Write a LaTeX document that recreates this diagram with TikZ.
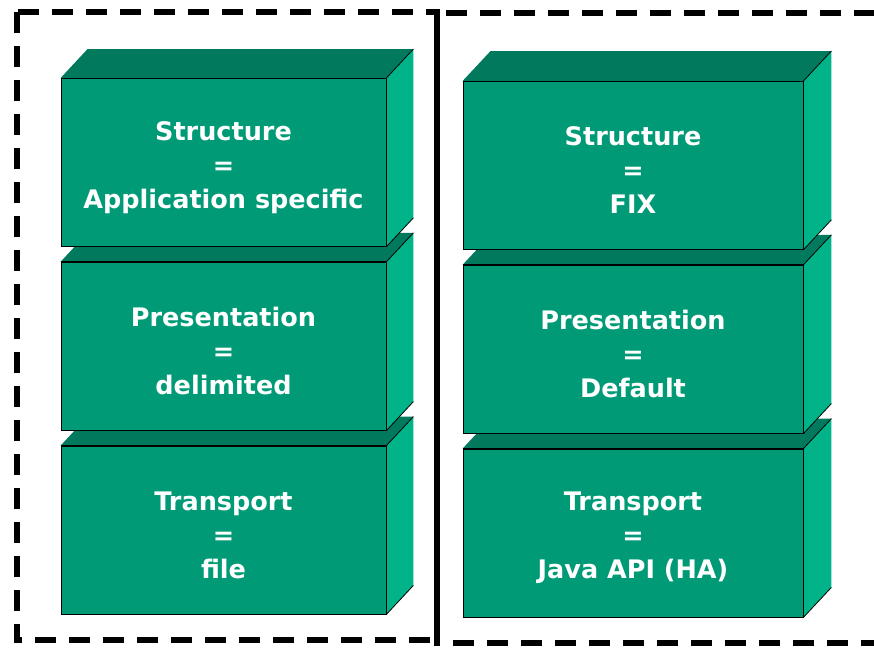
\documentclass[tikz,border=0pt]{standalone}
\usepackage{fontspec}
\newfontfamily\layerfont{DejaVu Sans}
\usepackage{tikz}
\usetikzlibrary{calc, positioning}
\definecolor{frontgreen}{RGB}{0,155,118}
\definecolor{topgreen}{RGB}{0,121,93}
\definecolor{sidegreen}{RGB}{0,179,136}
\tikzstyle{layer} = [rectangle, draw=black, line width=0.8pt, fill=frontgreen, minimum height=168pt, inner sep=0pt]
\tikzstyle{layertext} = [text=white, font=\layerfont\bfseries\fontsize{25.5}{34}\selectfont, align=center, yshift=-5pt]
\tikzstyle{edge} = [draw=black, line width=0.8pt]
\tikzstyle{frame} = [draw=black, line width=5.5pt, dash pattern=on 21pt off 13pt]
% top and side faces of one layer, #2 = depth offset
\newcommand{\layerfaces}[2]{%
  \fill[topgreen] (#1.north west) -- ($(#1.north west)+(#2)$) -- ($(#1.north east)+(#2)$) -- (#1.north east) -- cycle;
  \fill[sidegreen] (#1.north east) -- ($(#1.north east)+(#2)$) -- ($(#1.south east)+(#2)$) -- (#1.south east) -- cycle;
  \draw[edge] (#1.north west) -- (#1.north east) -- (#1.south east);
  \draw[edge] (#1.north east) -- ++(#2);
  \draw[edge] (#1.south east) -- ++(#2);
}
\begin{document}
\begin{tikzpicture}[x=1pt, y=-1pt, node distance = 15pt]
		\useasboundingbox (0,0) rectangle (874,648);
		% dashed frames
		\draw[frame] (17,12) rectangle (437,640);
		\draw[frame] (437,13) rectangle (910,643);
		\draw[frame, dash pattern=on 33pt off 2pt] (437,12) -- (437,643);
		% left stack
		\node (TransportL) [layer, minimum width=325pt, label={[layertext]center:{Transport\\=\\file}}] at (223.5,530) {};
		\layerfaces{TransportL}{27,-29}
		\node (PresentationL) [layer, minimum width=325pt, above = of TransportL, label={[layertext]center:{Presentation\\=\\delimited}}] {};
		\layerfaces{PresentationL}{27,-29}
		\node (StructureL) [layer, minimum width=325pt, above = of PresentationL, label={[layertext]center:{Structure\\=\\Application specific}}] {};
		\layerfaces{StructureL}{27,-29}
		% right stack
		\node (TransportR) [layer, minimum width=340pt, label={[layertext]center:{Transport\\=\\Java API (HA)}}] at (633,533) {};
		\layerfaces{TransportR}{28,-30}
		\node (PresentationR) [layer, minimum width=340pt, above = of TransportR, label={[layertext]center:{Presentation\\=\\Default}}] {};
		\layerfaces{PresentationR}{28,-30}
		\node (StructureR) [layer, minimum width=340pt, above = of PresentationR, label={[layertext]center:{Structure\\=\\FIX}}] {};
		\layerfaces{StructureR}{28,-30}
\end{tikzpicture}
\end{document}
